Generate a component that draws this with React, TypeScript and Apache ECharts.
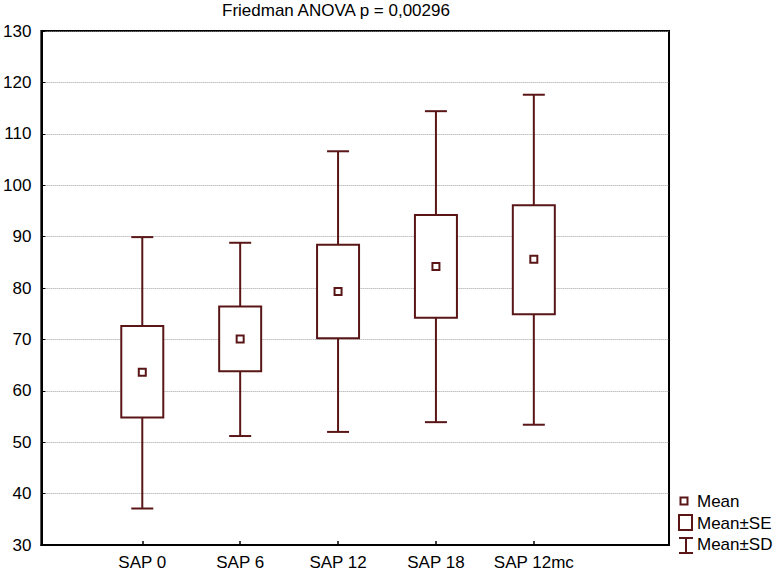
import React, { useEffect, useRef } from "react";
import * as echarts from "echarts";

const categories = ["SAP 0", "SAP 6", "SAP 12", "SAP 18", "SAP 12mc"];
const means = [63.6, 70.1, 79.3, 84.2, 85.6];
const seLow = [54.8, 63.8, 70.2, 74.2, 74.9];
const seHigh = [72.6, 76.4, 88.4, 94.2, 96.1];
const sdLow = [37.1, 51.2, 52.0, 53.9, 53.4];
const sdHigh = [89.9, 88.8, 106.6, 114.4, 117.6];
const yMin = 30;
const yMax = 130;
const yInterval = 10;
const titleText = "Friedman ANOVA p = 0,00296";
const legendLabels = ["Mean", "Mean±SE", "Mean±SD"];

const COLOR = "#5a1616";
const FONT = "'Liberation Sans', Arial, sans-serif";
const FS = 17;

export default function App() {
  const ref = useRef<HTMLDivElement>(null);

  useEffect(() => {
    document.body.style.margin = "0";
    if (!ref.current) return;
    const chart = echarts.init(ref.current, undefined, { renderer: "svg" });

    const data = categories.map((_, i) => [i, sdLow[i], seLow[i], means[i], seHigh[i], sdHigh[i]]);

    const renderItem = (params: any, api: any) => {
      const i = api.value(0);
      const [cx, yMean] = api.coord([i, api.value(3)]);
      const ySdLo = api.coord([i, api.value(1)])[1];
      const ySeLo = api.coord([i, api.value(2)])[1];
      const ySeHi = api.coord([i, api.value(4)])[1];
      const ySdHi = api.coord([i, api.value(5)])[1];
      const lineStyle = { stroke: COLOR, lineWidth: 2 };
      const boxW = 42;
      const capW = 22;
      return {
        type: "group",
        children: [
          { type: "line", shape: { x1: cx, y1: ySdHi, x2: cx, y2: ySeHi }, style: lineStyle },
          { type: "line", shape: { x1: cx, y1: ySeLo, x2: cx, y2: ySdLo }, style: lineStyle },
          { type: "line", shape: { x1: cx - capW / 2, y1: ySdHi, x2: cx + capW / 2, y2: ySdHi }, style: lineStyle },
          { type: "line", shape: { x1: cx - capW / 2, y1: ySdLo, x2: cx + capW / 2, y2: ySdLo }, style: lineStyle },
          {
            type: "rect",
            shape: { x: cx - boxW / 2, y: ySeHi, width: boxW, height: ySeLo - ySeHi },
            style: { fill: "#fff", stroke: COLOR, lineWidth: 2 },
          },
          {
            type: "rect",
            shape: { x: cx - 3.5, y: yMean - 3.5, width: 7, height: 7 },
            style: { fill: "#fff", stroke: COLOR, lineWidth: 2 },
          },
        ],
      };
    };

    const textStyle = { fontFamily: FONT, fontSize: FS, fill: "#000" };

    const option: any = {
      animation: false,
      backgroundColor: "#fff",
      textStyle: { fontFamily: FONT },
      grid: {
        left: 39,
        right: 105,
        top: 31,
        bottom: 26,
        show: true,
        borderColor: "#000",
        borderWidth: 2,
        backgroundColor: "transparent",
      },
      xAxis: {
        type: "value",
        min: -1.031,
        max: 5.381,
        splitLine: { show: false },
        axisLine: { show: true, onZero: false, lineStyle: { color: "#000", width: 2 } },
        axisTick: {
          show: true,
          inside: true,
          length: 4,
          customValues: [0, 1, 2, 3, 4],
          lineStyle: { color: "#000", width: 1.5 },
        },
        axisLabel: {
          customValues: [0, 1, 2, 3, 4],
          formatter: (v: number) => categories[Math.round(v)] ?? "",
          color: "#000",
          fontSize: FS,
          fontFamily: FONT,
          margin: 9,
        },
      },
      yAxis: {
        type: "value",
        min: yMin,
        max: yMax,
        interval: yInterval,
        axisLine: { show: true, onZero: false, lineStyle: { color: "#000", width: 2 } },
        axisTick: { show: true, inside: true, length: 4, lineStyle: { color: "#000", width: 1 } },
        axisLabel: { color: "#000", fontSize: FS, fontFamily: FONT, margin: 10 },
        splitLine: { show: true, lineStyle: { color: "#a0a0a0", type: "dotted", width: 1 } },
      },
      series: [
        {
          type: "custom",
          renderItem,
          data,
          encode: { x: 0, y: [1, 2, 3, 4, 5] },
          clip: false,
        },
      ],
      graphic: [
        {
          type: "text",
          left: 222,
          top: 2,
          style: { ...textStyle, text: titleText },
        },
        // Legend: Mean
        {
          type: "rect",
          shape: { x: 680.5, y: 497.5, width: 7, height: 7 },
          style: { fill: "#fff", stroke: COLOR, lineWidth: 2 },
        },
        {
          type: "text",
          x: 697,
          y: 501,
          style: { ...textStyle, text: legendLabels[0], textVerticalAlign: "middle" },
        },
        // Legend: Mean±SE
        {
          type: "rect",
          shape: { x: 679, y: 515, width: 13, height: 15 },
          style: { fill: "#fff", stroke: COLOR, lineWidth: 2 },
        },
        {
          type: "text",
          x: 697,
          y: 523,
          style: { ...textStyle, text: legendLabels[1], textVerticalAlign: "middle" },
        },
        // Legend: Mean±SD
        {
          type: "line",
          shape: { x1: 679, y1: 538, x2: 693, y2: 538 },
          style: { stroke: COLOR, lineWidth: 2 },
        },
        {
          type: "line",
          shape: { x1: 686, y1: 538, x2: 686, y2: 553 },
          style: { stroke: COLOR, lineWidth: 2 },
        },
        {
          type: "line",
          shape: { x1: 679, y1: 553, x2: 693, y2: 553 },
          style: { stroke: COLOR, lineWidth: 2 },
        },
        {
          type: "text",
          x: 697,
          y: 544,
          style: { ...textStyle, text: legendLabels[2], textVerticalAlign: "middle" },
        },
      ],
    };

    chart.setOption(option);
    return () => chart.dispose();
  }, []);

  return <div ref={ref} style={{ width: 774, height: 571 }} />;
}
